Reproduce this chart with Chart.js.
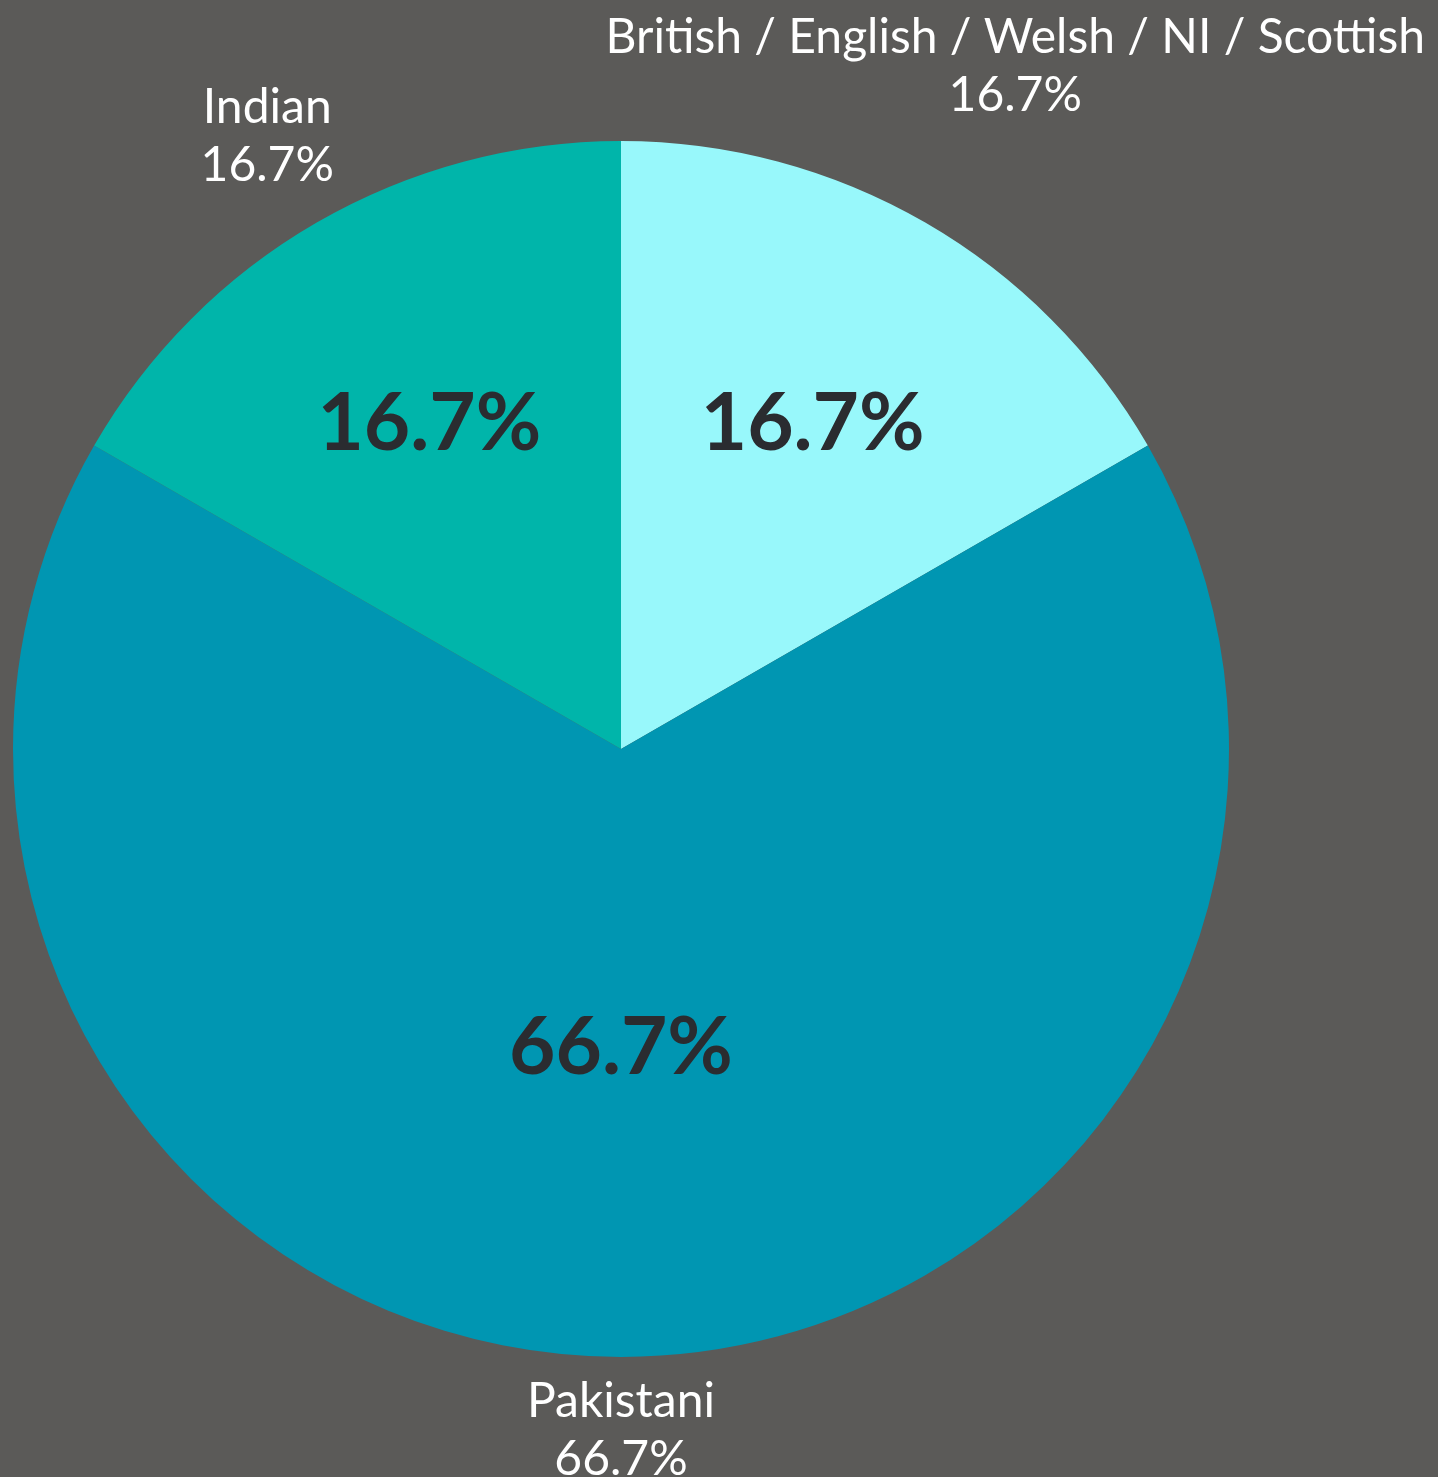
<!DOCTYPE html>
<html>
<head>
<meta charset="utf-8">
<script src="https://cdn.jsdelivr.net/npm/chart.js@4.4.1/dist/chart.umd.min.js"></script>
<style>
  html, body { margin: 0; padding: 0; background: #5b5a58; }
  #_canvasc { display: block; }
</style>
</head>
<body>
<canvas id="_canvasc" width="1438" height="1477"></canvas>
<script>
	// ******************************************************** DATA

	var categories = ["British / English / Welsh / NI / Scottish", "Pakistani", "Indian"];
	var shares = [16.7, 66.7, 16.7];
	var sliceColors = ["#98f8fb", "#0096b2", "#00b5aa"];

	// ******************************************************** LABELS

	var pieLabels = {
		id: 'pieLabels',
		afterDatasetsDraw: function (chart) {
			var ctx = chart.ctx;
			var meta = chart.getDatasetMeta(0);
			var values = chart.data.datasets[0].data;
			ctx.save();
			meta.data.forEach(function (arc, i) {
				var p = arc.getProps(['x', 'y', 'startAngle', 'endAngle', 'outerRadius'], true);
				var mid = (p.startAngle + p.endAngle) / 2;
				var sweep = p.endAngle - p.startAngle;
				var vx = Math.cos(mid), vy = Math.sin(mid);
				var txt = values[i].toFixed(1) + '%';

				// inside value
				var r = p.outerRadius * (sweep > Math.PI ? 0.48 : 0.63);
				ctx.font = 'bold 80px Lato';
				ctx.fillStyle = '#2a2c30';
				ctx.textAlign = 'center';
				ctx.textBaseline = 'middle';
				ctx.fillText(txt, p.x + vx * r, p.y + vy * r + 7);

				// outside label, pushed out until the box clears the pie by a gap
				var lines = [chart.data.labels[i], txt];
				ctx.font = '48px Lato';
				var lh = 58;
				var w = Math.max.apply(null, lines.map(function (l) { return ctx.measureText(l).width; }));
				var h = lines.length * lh;
				var target = p.outerRadius + 16;
				var lo = 0, hi = p.outerRadius * 3;
				for (var k = 0; k < 60; k++) {
					var d = (lo + hi) / 2;
					var cx = vx * d, cy = vy * d;
					var nx = Math.max(cx - w / 2, Math.min(0, cx + w / 2));
					var ny = Math.max(cy - h / 2, Math.min(0, cy + h / 2));
					if (Math.sqrt(nx * nx + ny * ny) < target) lo = d; else hi = d;
				}
				var bx = p.x + vx * hi, by = p.y + vy * hi;
				ctx.fillStyle = '#ffffff';
				lines.forEach(function (l, j) {
					ctx.fillText(l, bx, by - h / 2 + lh * (j + 0.5));
				});
			});
			ctx.restore();
		}
	};

	// ******************************************************** CHART

	var _ctxc = document.getElementById("_canvasc").getContext("2d");

	window.myPie = new Chart(_ctxc, {
		type: 'pie',
		data: {
			labels: categories,
			datasets: [{
				data: shares,
				backgroundColor: sliceColors,
				borderWidth: 0
			}]
		},
		options: {
			responsive: false,
			animation: false,
			layout: { padding: { left: 13, right: 209, top: 141, bottom: 120 } },
			plugins: {
				legend: { display: false },
				tooltip: { enabled: false }
			}
		},
		plugins: [pieLabels]
	});
</script>
</body>
</html>
